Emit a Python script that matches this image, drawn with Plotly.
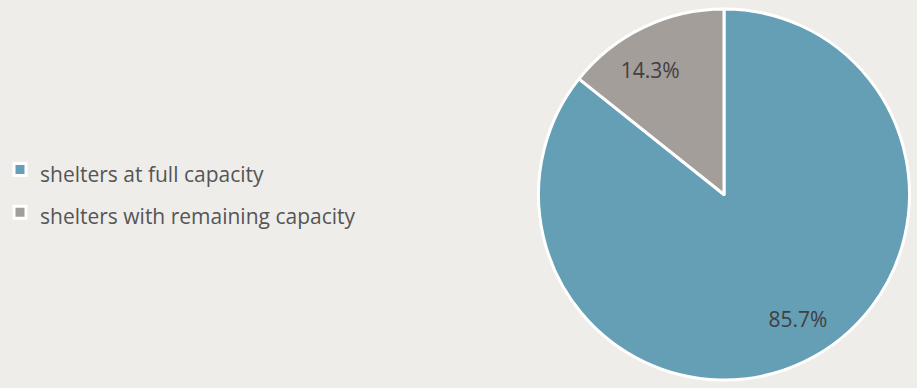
import plotly.graph_objects as go

labels = ["shelters at full capacity", "shelters with remaining capacity"]
values = [6, 1]
colors = ["#659FB5", "#A39E9A"]

LEG_SIZE = 21
legend_labels = [f'<span style="font-size:{LEG_SIZE}px">{l}</span>' for l in labels]
dom = dict(x=[538.5/917, 909.5/917], y=[8/388, 379/388])

fig = go.Figure()
# main pie (slices + legend)
fig.add_trace(go.Pie(
    labels=legend_labels,
    values=values,
    sort=False,
    direction="clockwise",
    rotation=0,
    marker=dict(colors=colors, line=dict(color="white", width=3)),
    textinfo="none",
    domain=dom,
    hoverinfo="label+percent",
))
# transparent ring overlay used only to place the percentage labels further out
fig.add_trace(go.Pie(
    labels=legend_labels,
    values=values,
    sort=False,
    direction="clockwise",
    rotation=-5,
    hole=0.56,
    marker=dict(colors=["rgba(0,0,0,0)"] * len(values), line=dict(width=0)),
    texttemplate="%{percent:.1%}",
    textposition="inside",
    insidetextorientation="horizontal",
    textfont=dict(family="Open Sans, sans-serif", size=21, color="#404040"),
    domain=dom,
    showlegend=False,
    hoverinfo="skip",
))

fig.update_layout(
    width=917, height=388,
    margin=dict(l=0, r=0, t=0, b=0),
    paper_bgcolor="#EEEDEA",
    plot_bgcolor="#EEEDEA",
    showlegend=True,
    legend=dict(
        x=0, xanchor="left",
        y=0.507, yanchor="middle",
        font=dict(family="Open Sans, sans-serif", size=30.5, color="#555555"),
        bgcolor="rgba(0,0,0,0)",
        tracegroupgap=0,
    ),
)

fig.write_html("out.html")
